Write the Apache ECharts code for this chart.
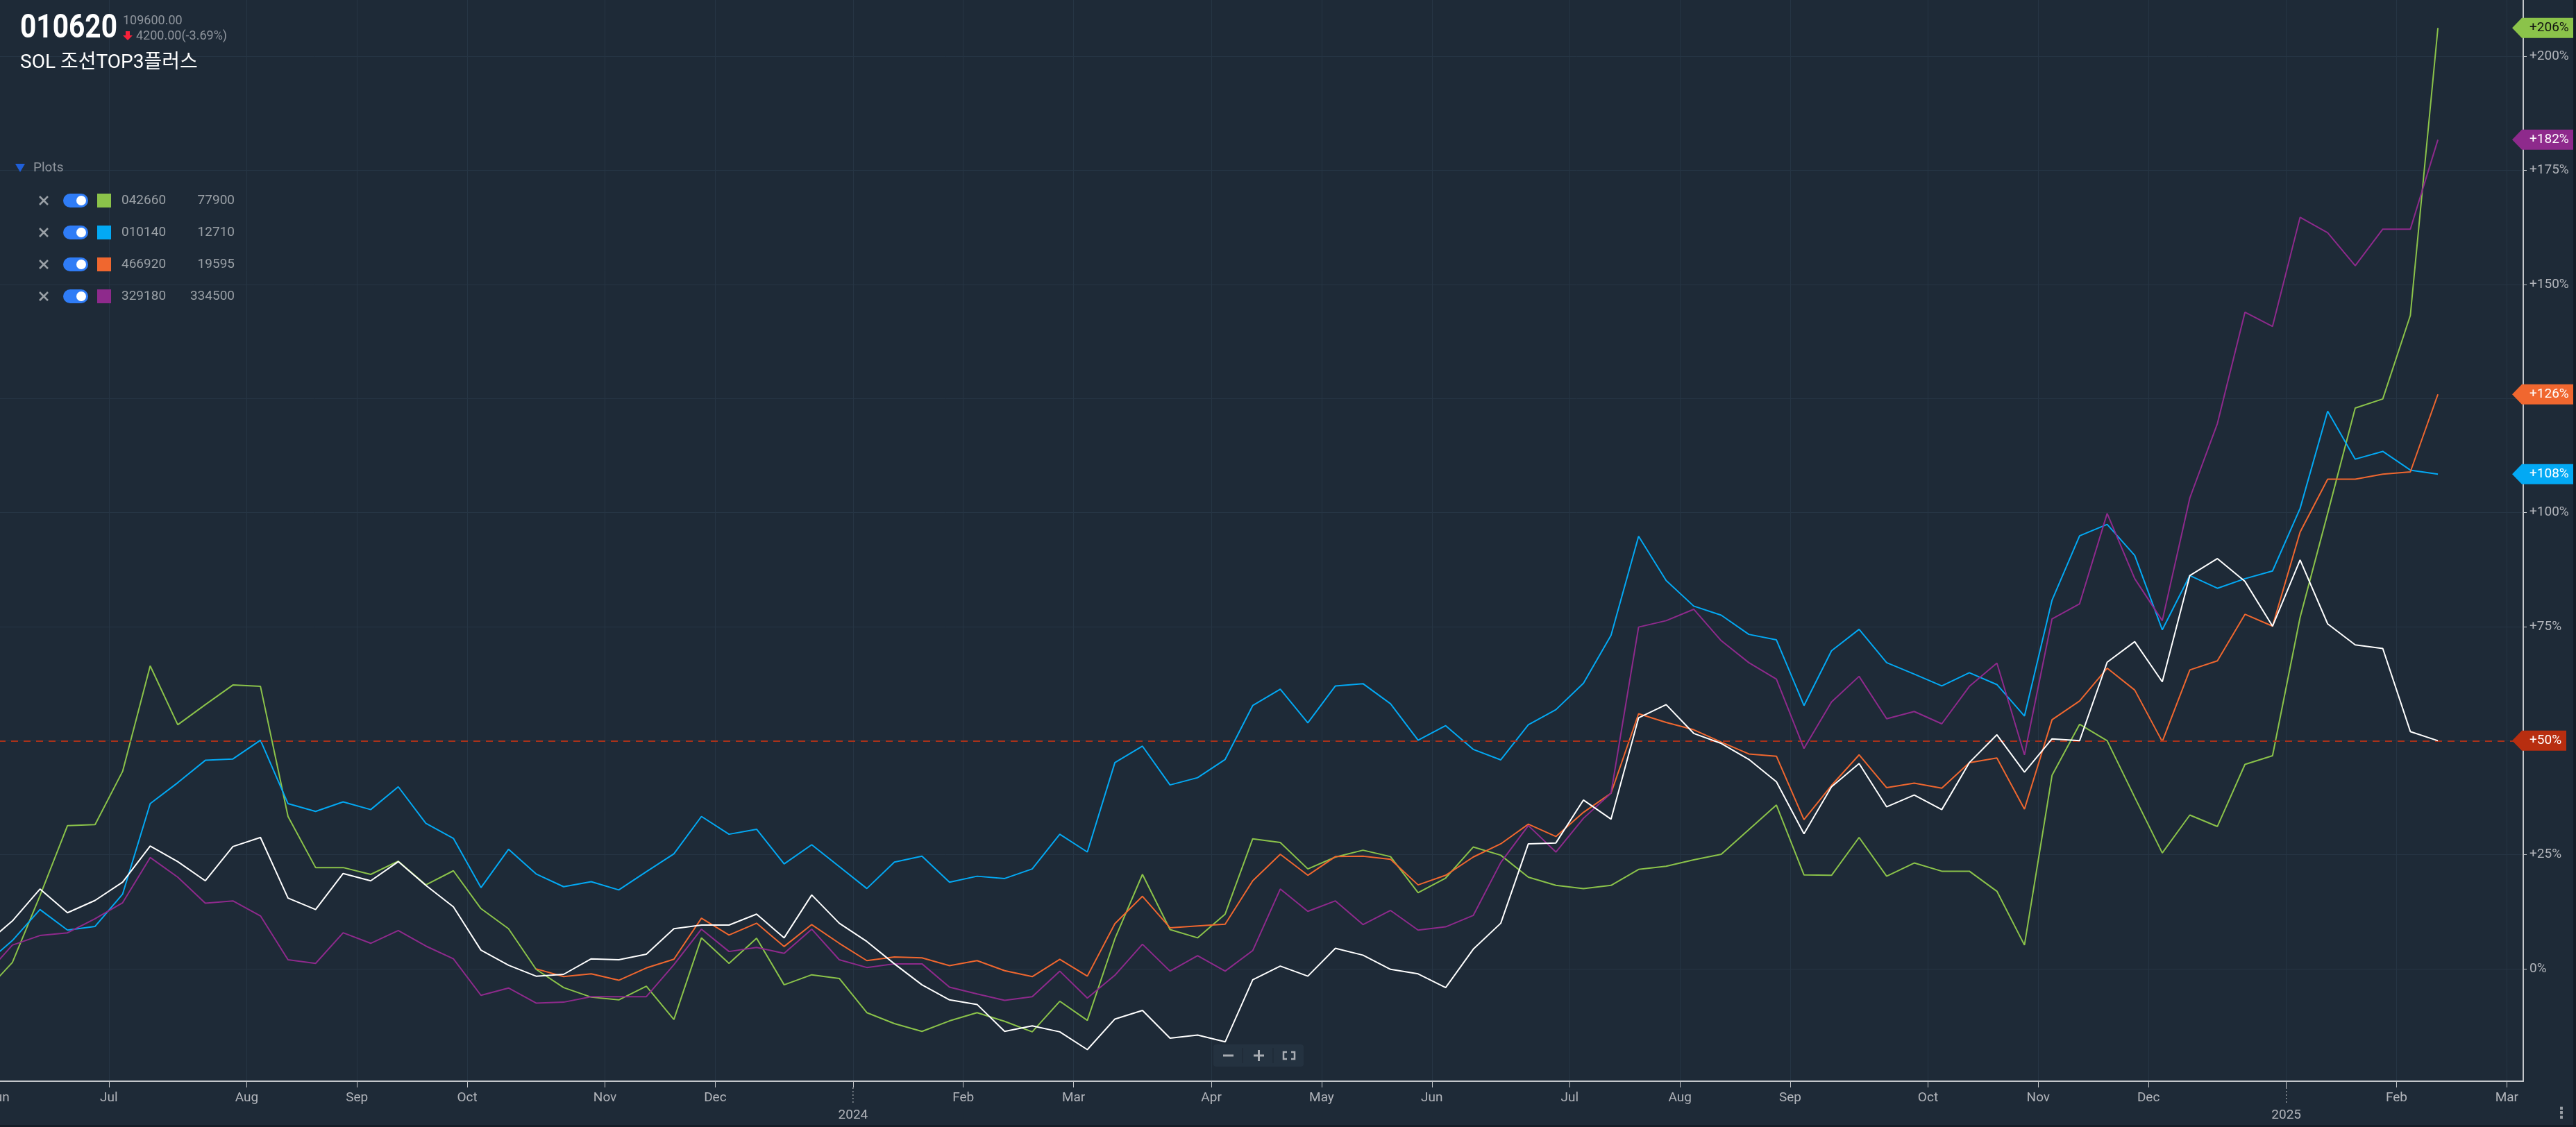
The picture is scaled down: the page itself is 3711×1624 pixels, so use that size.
<!DOCTYPE html>
<html><head><meta charset="utf-8">
<script src="https://cdn.jsdelivr.net/npm/echarts@6/dist/echarts.min.js"></script>
<style>html,body{margin:0;padding:0;background:#1e2a37;overflow:hidden}#c{width:3711px;height:1624px}</style>
</head><body><div id="c"></div>
<script>
// Weekly % change series (index = week bar)
const s042660 = [-5.1,1.4,16,31.4,31.6,43.3,66.4,53.5,57.9,62.2,61.9,33.4,22.2,22.2,20.7,23.6,18.4,21.5,13.2,8.8,
 -0.1,-4.1,-6.2,-6.8,-3.8,-11.1,6.8,1.2,6.7,-3.5,-1.3,-2.1,-9.6,-12.0,-13.7,-11.4,-9.6,-11.5,-13.8,-7.1,
 -11.3,6.6,20.7,8.6,6.8,12.0,28.5,27.7,21.9,24.5,26.0,24.6,16.7,19.9,26.7,24.9,20.1,18.3,17.6,18.3,
 21.8,22.5,23.9,25.1,30.5,35.9,20.6,20.5,28.8,20.3,23.2,21.4,21.4,17.0,5.2,42.4,53.6,50.0,37.6,25.4,
 33.7,31.2,44.8,46.7,77.0,99.8,122.9,124.9,143.2,206.2];
const s010140 = [1.0,6.2,13.0,8.5,9.3,16.4,36.2,40.8,45.7,46.0,50.1,36.2,34.5,36.6,34.9,39.9,31.9,28.6,17.8,26.2,
 20.8,18.0,19.1,17.3,21.3,25.2,33.4,29.5,30.6,23.0,27.2,22.4,17.6,23.4,24.7,19.0,20.3,19.8,21.9,29.5,
 25.6,45.2,48.8,40.3,41.9,45.9,57.7,61.3,53.9,62.0,62.5,58.1,50.1,53.3,48.1,45.8,53.5,56.8,62.6,73.1,
 94.8,85.1,79.5,77.5,73.3,72.1,57.7,69.7,74.4,67.1,64.6,62.0,64.9,62.3,55.4,80.8,94.9,97.4,90.6,74.3,
 86.2,83.4,85.5,87.2,100.9,122.2,111.7,113.4,109.3,108.4];
const s466920 = [null,null,null,null,null,null,null,null,null,null,null,null,null,null,null,null,null,null,null,null,
 0.0,-1.7,-1.1,-2.5,0.2,2.1,11.1,7.4,10.0,4.9,9.7,5.6,1.8,2.6,2.4,0.7,1.8,-0.4,-1.7,2.1,
 -1.6,9.9,15.9,9.0,9.4,9.8,19.3,25.1,20.5,24.6,24.7,24.0,18.4,20.5,24.5,27.4,31.7,29.0,34.3,38.5,
 55.9,54.0,52.4,49.7,47.1,46.6,32.7,40.2,46.9,39.7,40.7,39.6,45.2,46.2,35.0,54.6,58.7,65.9,61.1,49.8,
 65.5,67.5,77.7,75.1,95.7,107.3,107.3,108.4,108.9,125.9];
const s329180 = [-1.5,5.2,7.3,7.9,11.0,14.5,24.4,20.1,14.4,14.9,11.6,2.0,1.2,7.9,5.6,8.4,5.0,2.2,-5.8,-4.2,
 -7.5,-7.3,-6.1,-6.1,-6.1,0.9,8.7,3.8,4.7,3.4,8.7,2.0,0.3,1.1,1.1,-4.0,-5.5,-6.9,-6.1,-0.5,
 -6.4,-1.4,5.4,-0.5,2.9,-0.5,4.0,17.5,12.6,14.9,9.7,12.8,8.5,9.2,11.7,23.3,31.4,25.6,33.0,38.5,
 74.9,76.3,78.8,71.9,67.1,63.5,48.3,58.5,64.1,54.8,56.4,53.7,61.9,67.0,46.9,76.7,80.0,99.8,85.5,76.3,
 103.2,119.5,143.9,140.8,164.7,161.3,154.1,162.1,162.1,181.7];
const s010620 = [5.3,10.5,17.5,12.3,15.0,19.0,26.9,23.5,19.3,26.8,28.8,15.5,13.0,20.9,19.3,23.5,18.3,13.6,4.1,0.8,
 -1.6,-1.2,2.2,2.0,3.2,8.8,9.6,9.6,12.0,6.8,16.2,10.0,6.0,1.1,-3.5,-6.8,-7.8,-13.7,-12.5,-13.8,
 -17.7,-11.0,-9.1,-15.2,-14.5,-16.0,-2.4,0.6,-1.6,4.5,3.0,-0.1,-1.1,-4.1,4.3,10.0,27.4,27.6,37.0,32.8,
 55.0,57.9,51.6,49.4,45.9,41.0,29.6,39.9,45.0,35.5,38.1,34.9,45.2,51.3,43.1,50.4,50.0,67.2,71.7,62.9,
 86.2,89.9,84.9,75.1,89.6,75.6,71.0,70.2,52.0,50.0];

const legendCodes = ['042660','010140','466920','329180'];
const legendPrices = ['77900','12710','19595','334500'];
const seriesColors = ['#8bc34a','#03a9f4','#f0672f','#8e2a8c'];
const mainColor = '#ffffff';

const monthTickWeeks = [0.5,4.5,9.5,13.5,17.5,22.5,26.5,31.5,35.5,39.5,44.5,48.5,52.5,57.5,61.5,65.5,70.5,74.5,78.5,83.5,87.5,91.5];
const monthTickLabels = ['Jun','Jul','Aug','Sep','Oct','Nov','Dec','2024','Feb','Mar','Apr','May','Jun','Jul','Aug','Sep','Oct','Nov','Dec','2025','Feb','Mar'];
const yTicks = [0,25,50,75,100,125,150,175,200];

const pairs = arr => arr.map((v,i)=>[i,v]);
const lastVal = arr => arr[arr.length-1];

const chart = echarts.init(document.getElementById('c'), null, {renderer:'canvas'});
const axisGrey = '#c3c6ca';
const labelGrey = '#b2b5bb';
const gridCol = '#263544';
const font = 'Roboto';

const lineSeries = (name, data, color, z) => ({
  name, type:'line', data:pairs(data), showSymbol:false, symbol:'none', connectNulls:false,
  lineStyle:{width:2, color}, itemStyle:{color}, z, animation:false, silent:true
});

const option = {
  backgroundColor:'#1e2a37',
  animation:false,
  grid:{left:-2, right:76, top:0, bottom:66, outerBoundsMode:'none', containLabel:false},
  xAxis:{
    type:'value', min:0.5, max:92.096, position:'bottom',
    axisLine:{show:true, onZero:false, lineStyle:{color:axisGrey, width:2}},
    axisTick:{show:true, customValues:monthTickWeeks, length:9, lineStyle:{color:axisGrey, width:1}},
    axisLabel:{show:true, customValues:monthTickWeeks, color:labelGrey, fontSize:19, fontFamily:font, margin:12, lineHeight:25,
      formatter:v=>{ const i = monthTickWeeks.findIndex(m=>Math.abs(m-v)<1e-6); const t = i>=0?monthTickLabels[i]:''; return /^\d{4}$/.test(t)?'\n'+t:t; }},
    splitLine:{show:true, lineStyle:{color:gridCol, width:1}}
  },
  yAxis:{
    type:'value', position:'right', min:-24.62, max:212.32,
    axisLine:{show:true, onZero:false, lineStyle:{color:axisGrey, width:2}},
    axisTick:{show:true, customValues:yTicks, length:5, lineStyle:{color:axisGrey, width:1}},
    axisLabel:{show:true, customValues:yTicks, color:labelGrey, fontSize:19, fontFamily:font, margin:9,
      formatter:v=> v>0 ? '+'+v+'%' : v+'%'},
    splitLine:{show:true, lineStyle:{color:gridCol, width:1}}
  },
  series:[
    lineSeries('042660', s042660, seriesColors[0], 2),
    lineSeries('010140', s010140, seriesColors[1], 3),
    lineSeries('466920', s466920, seriesColors[2], 4),
    lineSeries('329180', s329180, seriesColors[3], 5),
    Object.assign(lineSeries('010620', s010620, mainColor, 6), {
      markLine:{silent:true, symbol:['none','none'], label:{show:false},
        lineStyle:{color:'#a8321a', type:[10,8], width:2},
        data:[{yAxis:lastVal(s010620)}]}
    })
  ]
};
chart.setOption(option);

// header / legend / tags as graphics
const g = [];
g.push({type:'rect', shape:{x:3707,y:0,width:4,height:1624}, style:{fill:'#151d27'}});
g.push({type:'rect', shape:{x:0,y:1621,width:3711,height:3}, style:{fill:'#151d27'}});
g.push({type:'text', x:29, y:42, scaleX:0.83, style:{text:'010620', fill:'#ffffff', font:'bold 49px Roboto', textVerticalAlign:'middle', verticalAlign:'middle'}});
g.push({type:'text', x:177, y:30, style:{text:'109600.00', fill:'#8f959d', font:'18px Roboto', textVerticalAlign:'middle', verticalAlign:'middle'}});
g.push({type:'polygon', shape:{points:[[181,45],[187,45],[187,51],[191,51],[184,58],[177,51],[181,51]]}, style:{fill:'#f7213a'}});
g.push({type:'text', x:196, y:52, style:{text:'4200.00(-3.69%)', fill:'#8f959d', font:'18px Roboto', textVerticalAlign:'middle', verticalAlign:'middle'}});
g.push({type:'text', x:29, y:91, style:{text:'SOL 조선TOP3플러스', fill:'#ffffff', font:'28px Roboto, "Noto Sans CJK KR"', textVerticalAlign:'middle', verticalAlign:'middle'}});
g.push({type:'polygon', shape:{points:[[22,236],[36,236],[29,248]]}, style:{fill:'#1f5fd9'}});
g.push({type:'text', x:48, y:242, style:{text:'Plots', fill:'#8f959d', font:'19px Roboto', textVerticalAlign:'middle', verticalAlign:'middle'}});
legendCodes.forEach((code,i)=>{
  const y = 289 + i*46;
  g.push({type:'line', shape:{x1:57,y1:y-6,x2:69,y2:y+6}, style:{stroke:'#9aa0a6', lineWidth:2.5}});
  g.push({type:'line', shape:{x1:69,y1:y-6,x2:57,y2:y+6}, style:{stroke:'#9aa0a6', lineWidth:2.5}});
  g.push({type:'rect', shape:{x:91,y:y-10,width:36,height:20,r:10}, style:{fill:'#2f7cf6'}});
  g.push({type:'circle', shape:{cx:117,cy:y,r:7}, style:{fill:'#ffffff'}});
  g.push({type:'rect', shape:{x:140,y:y-10,width:20,height:20}, style:{fill:seriesColors[i]}});
  g.push({type:'text', x:175, y:y, style:{text:code, fill:'#9aa0a6', font:'19px Roboto', textVerticalAlign:'middle', verticalAlign:'middle'}});
  g.push({type:'text', x:338, y:y, style:{text:legendPrices[i], fill:'#9aa0a6', font:'19px Roboto', textAlign:'right', align:'right', textVerticalAlign:'middle', verticalAlign:'middle'}});
});
// zoom controls
g.push({type:'rect', shape:{x:1748,y:1505,width:130,height:32,r:4}, style:{fill:'#243240'}});
g.push({type:'line', shape:{x1:1790,y1:1510,x2:1790,y2:1532}, style:{stroke:'#1c2733', lineWidth:1}});
g.push({type:'line', shape:{x1:1834,y1:1510,x2:1834,y2:1532}, style:{stroke:'#1c2733', lineWidth:1}});
g.push({type:'line', shape:{x1:1762,y1:1521,x2:1777,y2:1521}, style:{stroke:'#a9adb3', lineWidth:3}});
g.push({type:'line', shape:{x1:1806,y1:1521,x2:1821,y2:1521}, style:{stroke:'#a9adb3', lineWidth:3}});
g.push({type:'line', shape:{x1:1813.5,y1:1513,x2:1813.5,y2:1529}, style:{stroke:'#a9adb3', lineWidth:3}});
[[1849,1516,1,1],[1865,1516,-1,1],[1849,1526,1,-1],[1865,1526,-1,-1]].forEach(([x,y,dx,dy])=>{
  g.push({type:'polyline', shape:{points:[[x+dx*5,y],[x,y],[x,y+dy*5]]}, style:{stroke:'#a9adb3', lineWidth:2.5, fill:null}});
});
g.push({type:'text', x:3690, y:1605, style:{text:'⋮', fill:'#9aa0a6', font:'bold 22px "DejaVu Sans"', textAlign:'center', align:'center', textVerticalAlign:'middle', verticalAlign:'middle'}});

// dotted year-boundary tick marks
monthTickLabels.forEach((t,i)=>{
  if (/^\d{4}$/.test(t)) {
    const x = chart.convertToPixel({xAxisIndex:0}, monthTickWeeks[i]);
    g.push({type:'line', shape:{x1:x,y1:1567,x2:x,y2:1589}, style:{stroke:axisGrey, lineWidth:1, lineDash:[2,3]}});
  }
});

// right side value tags
const tagDefs = [
  {data:s042660, color:seriesColors[0], txt:'#111111'},
  {data:s329180, color:seriesColors[3], txt:'#ffffff'},
  {data:s466920, color:seriesColors[2], txt:'#ffffff'},
  {data:s010140, color:seriesColors[1], txt:'#ffffff'},
  {data:s010620, color:'#b82e10', txt:'#ffffff'}
];
tagDefs.forEach(t=>{
  const v = lastVal(t.data);
  const y = chart.convertToPixel({yAxisIndex:0}, v);
  const label = (v>0?'+':'') + Math.round(v) + '%';
  const right = label.length >= 5 ? 3707 : 3697;
  g.push({type:'polygon', z:100, shape:{points:[[3619,y],[3633,y-14.5],[right,y-14.5],[right,y+14.5],[3633,y+14.5]]}, style:{fill:t.color}});
  g.push({type:'text', z:101, x:3644, y:y, style:{text:label, fill:t.txt, font:'19px Roboto', textVerticalAlign:'middle', verticalAlign:'middle'}});
});
chart.setOption({graphic:{elements:g}});
</script></body></html>
